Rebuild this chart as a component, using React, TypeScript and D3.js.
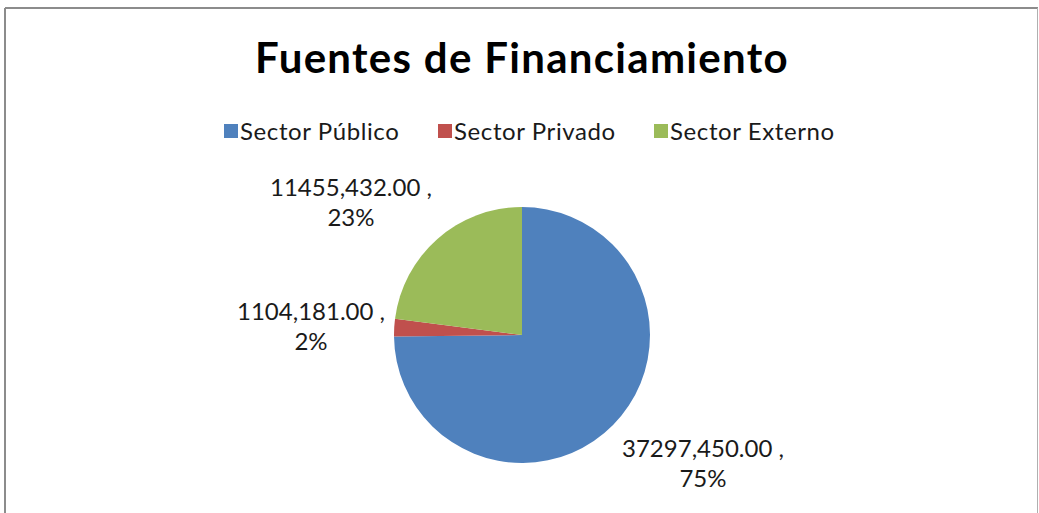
import React from "react";
import * as d3 from "d3";

const categories = ["Sector Público", "Sector Privado", "Sector Externo"];
const values = [37297450.0, 1104181.0, 11455432.0];
const percentLabels = ["75%", "2%", "23%"];
const colors = ["#4F81BD", "#C0504D", "#9BBB59"];
const title = "Fuentes de Financiamiento";

const W = 1039;
const H = 513;
const FONT = "Lato, 'Open Sans', 'DejaVu Sans', sans-serif";

function fmtValue(v: number): string {
  const thousands = Math.floor(v / 1000);
  const rest = Math.round(v % 1000);
  return `${thousands},${String(rest).padStart(3, "0")}.00`;
}

export default function App() {
  const cx = 522;
  const cy = 335;
  const r = 128;
  const pie = d3
    .pie<number>()
    .sort(null)
    .startAngle(0)
    .endAngle(2 * Math.PI)
    .value((d) => d);
  const arcs = pie(values);
  const arcGen = d3.arc<d3.PieArcDatum<number>>().innerRadius(0).outerRadius(r);

  const labelPos: [number, number][] = [
    [703, 457],
    [311, 320],
    [351, 196],
  ];

  const legendX = [224, 438, 654];

  return (
    <svg
      width={W}
      height={H}
      style={{ position: "absolute", left: 0, top: 0, background: "#fff" }}
    >
      <rect x={0} y={0} width={W} height={H} fill="#fff" />
      <line x1={5} y1={8} x2={1038} y2={8} stroke="#8c8c8c" strokeWidth={2} />
      <line x1={5} y1={8} x2={5} y2={H} stroke="#8c8c8c" strokeWidth={2} />
      <line x1={1037.5} y1={8} x2={1037.5} y2={H} stroke="#b0b0b0" strokeWidth={1} />
      <text
        x={522}
        y={73}
        textAnchor="middle"
        fontFamily={FONT}
        fontWeight="bold"
        fontSize={42}
        letterSpacing={1.3}
        fill="#000"
      >
        {title}
      </text>
      {categories.map((c, i) => (
        <g key={c}>
          <rect x={legendX[i]} y={124} width={14} height={14} fill={colors[i]} />
          <text
            x={legendX[i] + 16}
            y={140}
            fontFamily={FONT}
            fontSize={24}
            letterSpacing={0.6}
            fill="#1a1a1a"
          >
            {c}
          </text>
        </g>
      ))}
      <g transform={`translate(${cx},${cy})`}>
        {arcs.map((a, i) => (
          <path key={i} d={arcGen(a) || ""} fill={colors[i]} />
        ))}
      </g>
      {arcs.map((a, i) => (
        <text
          key={"l" + i}
          x={labelPos[i][0]}
          y={labelPos[i][1]}
          textAnchor="middle"
          fontFamily={FONT}
          fontSize={24}
          fill="#1a1a1a"
        >
          <tspan x={labelPos[i][0]} dy={0}>
            {fmtValue(values[i])} ,
          </tspan>
          <tspan x={labelPos[i][0]} dy={30}>
            {percentLabels[i]}
          </tspan>
        </text>
      ))}
    </svg>
  );
}
